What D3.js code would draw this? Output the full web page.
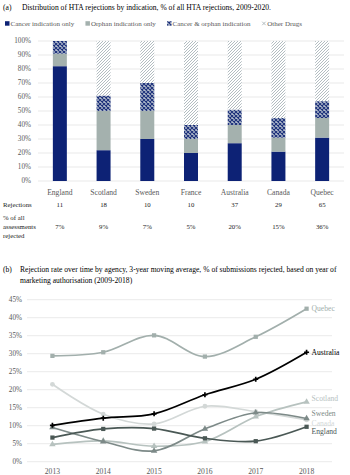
<!DOCTYPE html>
<html>
<head>
<meta charset="utf-8">
<script src="https://cdn.jsdelivr.net/npm/d3@7"></script>
<style>
  body { margin: 0; background: #fff; }
  svg { display: block; font-family: "Liberation Serif", "Times New Roman", serif; }
</style>
</head>
<body>
<div id="chart"></div>
<script>
// ---- panel (a) data ----
const countries = ["England", "Scotland", "Sweden", "France", "Australia", "Canada", "Quebec"];
const cancerOnly = [82, 22, 30, 20, 27, 21, 31];
const orphanOnly = [9, 28, 20, 10, 13, 10, 14];
const cancerOrphan = [9, 11, 20, 10, 11, 14, 12];
const otherDrugs = [0, 39, 30, 60, 49, 55, 43];
const rejections = [11, 18, 10, 10, 37, 29, 65];
const pctRejected = ["7%", "9%", "7%", "5%", "20%", "15%", "36%"];
const seriesNames = ["Cancer indication only", "Orphan indication only", "Cancer & orphan indication", "Other Drugs"];

// ---- panel (b) data ----
const years = ["2013", "2014", "2015", "2016", "2017", "2018"];
const quebec = [29.4, 30.4, 35.1, 29.2, 34.7, 42.5];
const australia = [10.1, 12.1, 13.3, 18.6, 22.9, 30.4];
const scotland = [4.8, 5.8, 4.3, 5.6, 12.5, 16.6];
const sweden = [9.5, 5.6, 3.0, 9.1, 13.6, 12.0];
const canada = [21.5, 13.2, 10.5, 15.4, 13.9, 11.6];
const england = [6.7, 9.1, 9.2, 6.5, 5.7, 9.7];

const W = 350, H = 475;
const svg = d3.select("#chart").append("svg").attr("width", W).attr("height", H);

// patterns
const defs = svg.append("defs");
const cross = defs.append("pattern").attr("id", "cross")
  .attr("patternUnits", "userSpaceOnUse").attr("width", 4).attr("height", 4);
cross.append("rect").attr("width", 4).attr("height", 4).attr("fill", "#b3bdcd");
cross.append("path").attr("d", "M0,0L4,4M4,0L0,4").attr("stroke", "#1c2f7a").attr("stroke-width", 1.1);
const stripe = defs.append("pattern").attr("id", "stripe")
  .attr("patternUnits", "userSpaceOnUse").attr("width", 3).attr("height", 3);
stripe.append("rect").attr("width", 3).attr("height", 3).attr("fill", "#fff");
stripe.append("path").attr("d", "M-1,1L1,-1M0,3L3,0M2,4L4,2").attr("stroke", "#aab6ba").attr("stroke-width", 0.9);

const fills = ["#0d2275", "#a4b1ae", "url(#cross)", "url(#stripe)"];
const tickColor = "#595959";

// ---------- panel (a) ----------
svg.append("text").attr("x", 3).attr("y", 10).attr("font-size", 7.6).text("(a)");
svg.append("text").attr("x", 22).attr("y", 10).attr("font-size", 7.6)
  .text("Distribution of HTA rejections by indication, % of all HTA rejections, 2009-2020.");

// legend, spread between x=5 and x=302
const legend = svg.append("g").attr("font-size", 7).attr("fill", tickColor);
const items = seriesNames.map((name, i) => {
  const g = legend.append("g");
  if (i < 3) {
    g.append("rect").attr("x", 0).attr("y", -3.8).attr("width", 4.5).attr("height", 4.5).attr("fill", fills[i]);
  } else {
    g.append("path").attr("d", "M0.5,-3.3L4,0.2M4,-3.3L0.5,0.2").attr("stroke", "#aab6ba").attr("stroke-width", 0.9);
  }
  const t = g.append("text").attr("x", 5.5).attr("y", 0.5).text(name);
  return { g, w: 5.5 + t.node().getComputedTextLength() };
});
const gap = (302 - 5 - d3.sum(items, d => d.w)) / (items.length - 1);
let lx = 5;
items.forEach(it => {
  it.g.attr("transform", `translate(${lx},25)`);
  lx += it.w + gap;
});

const x1 = d3.scaleBand().domain(countries).range([38, 344]).paddingInner(0.68).paddingOuter(0.34);
const y1 = d3.scaleLinear().domain([0, 100]).range([181, 41]);

svg.append("g").selectAll("line").data(d3.range(0, 101, 10)).join("line")
  .attr("x1", 38).attr("x2", 344)
  .attr("y1", d => y1(d)).attr("y2", d => y1(d))
  .attr("stroke", "#e3e3e3").attr("stroke-width", 0.8);
svg.append("g").attr("font-size", 7.2).attr("fill", tickColor).attr("text-anchor", "end")
  .selectAll("text").data(d3.range(0, 101, 10)).join("text")
  .attr("x", 31).attr("y", d => y1(d)).attr("dy", "0.33em").text(d => d + "%");

const stackData = countries.map((c, i) => ({
  country: c, s0: cancerOnly[i], s1: orphanOnly[i], s2: cancerOrphan[i], s3: otherDrugs[i]
}));
const stacked = d3.stack().keys(["s0", "s1", "s2", "s3"])(stackData);
svg.append("g").selectAll("g").data(stacked).join("g")
  .attr("fill", (d, i) => fills[i])
  .selectAll("rect").data(d => d).join("rect")
  .attr("x", d => x1(d.data.country))
  .attr("width", x1.bandwidth())
  .attr("y", d => y1(d[1]))
  .attr("height", d => y1(d[0]) - y1(d[1]));

svg.append("g").attr("font-size", 7.6).attr("fill", tickColor).attr("text-anchor", "middle")
  .selectAll("text").data(countries).join("text")
  .attr("x", d => x1(d) + x1.bandwidth() / 2).attr("y", 195).text(d => d);

const tbl = svg.append("g").attr("font-size", 6.8).attr("fill", "#222");
tbl.append("text").attr("x", 3).attr("y", 207).text("Rejections");
tbl.selectAll("text.rej").data(rejections).join("text").attr("class", "rej")
  .attr("text-anchor", "middle")
  .attr("x", (d, i) => x1(countries[i]) + x1.bandwidth() / 2).attr("y", 207).text(d => d);
["% of all", "assessments", "rejected"].forEach((t, i) =>
  tbl.append("text").attr("x", 3).attr("y", 220 + i * 9).text(t));
tbl.selectAll("text.pct").data(pctRejected).join("text").attr("class", "pct")
  .attr("text-anchor", "middle")
  .attr("x", (d, i) => x1(countries[i]) + x1.bandwidth() / 2).attr("y", 229).text(d => d);

// ---------- panel (b) ----------
svg.append("text").attr("x", 3).attr("y", 272).attr("font-size", 7.6).text("(b)");
svg.append("text").attr("x", 20).attr("y", 272).attr("font-size", 7.6)
  .text("Rejection rate over time by agency, 3-year moving average, % of submissions rejected, based on year of");
svg.append("text").attr("x", 20).attr("y", 283).attr("font-size", 7.6)
  .text("marketing authorisation (2009-2018)");

const x2 = d3.scaleBand().domain(years).range([27, 332]);
const y2 = d3.scaleLinear().domain([0, 45]).range([461.7, 299.7]);
const cx = d => x2(d) + x2.bandwidth() / 2;

svg.append("g").selectAll("line").data(d3.range(0, 46, 5)).join("line")
  .attr("x1", 27).attr("x2", 332)
  .attr("y1", d => y2(d)).attr("y2", d => y2(d))
  .attr("stroke", "#e3e3e3").attr("stroke-width", 0.8);
svg.append("g").attr("font-size", 7.2).attr("fill", tickColor).attr("text-anchor", "end")
  .selectAll("text").data(d3.range(0, 46, 5)).join("text")
  .attr("x", 22).attr("y", d => y2(d)).attr("dy", "0.33em").text(d => d + "%");
svg.append("g").attr("font-size", 7.6).attr("fill", tickColor).attr("text-anchor", "middle")
  .selectAll("text").data(years).join("text")
  .attr("x", d => cx(d)).attr("y", 474).text(d => d);

// labelDy nudges the end labels apart where they crowd
const lines = [
  { name: "Canada", values: canada, color: "#d3d8d7", symbol: d3.symbolCircle, labelDy: 3.5 },
  { name: "Scotland", values: scotland, color: "#b7c2bf", symbol: d3.symbolTriangle, labelDy: -3 },
  { name: "Sweden", values: sweden, color: "#7d8a88", symbol: d3.symbolTriangle, labelDy: -5 },
  { name: "England", values: england, color: "#4a5855", symbol: d3.symbolSquare, labelDy: 5 },
  { name: "Quebec", values: quebec, color: "#a2afac", symbol: d3.symbolSquare, labelDy: 0 },
  { name: "Australia", values: australia, color: "#000000", symbol: d3.symbolCross, labelDy: 0 }
];

const lineGen = d3.line().x(d => cx(d.year)).y(d => y2(d.v)).curve(d3.curveCatmullRom.alpha(0.5));

lines.forEach(s => {
  const pts = years.map((yr, i) => ({ year: yr, v: s.values[i] }));
  svg.append("path").datum(pts).attr("d", lineGen)
    .attr("fill", "none").attr("stroke", s.color).attr("stroke-width", 1.7);
  svg.append("g").selectAll("path").data(pts).join("path")
    .attr("transform", d => `translate(${cx(d.year)},${y2(d.v)})`)
    .attr("d", d3.symbol().type(s.symbol).size(s.symbol === d3.symbolCross ? 14 : 18))
    .attr("fill", s.color);
  const last = pts[pts.length - 1];
  svg.append("text")
    .attr("x", cx(last.year) + 5)
    .attr("y", y2(last.v) + s.labelDy)
    .attr("dy", "0.33em")
    .attr("font-size", 7.6)
    .attr("fill", s.name === "Australia" ? "#000" : s.color)
    .text(s.name);
});
</script>
</body>
</html>
